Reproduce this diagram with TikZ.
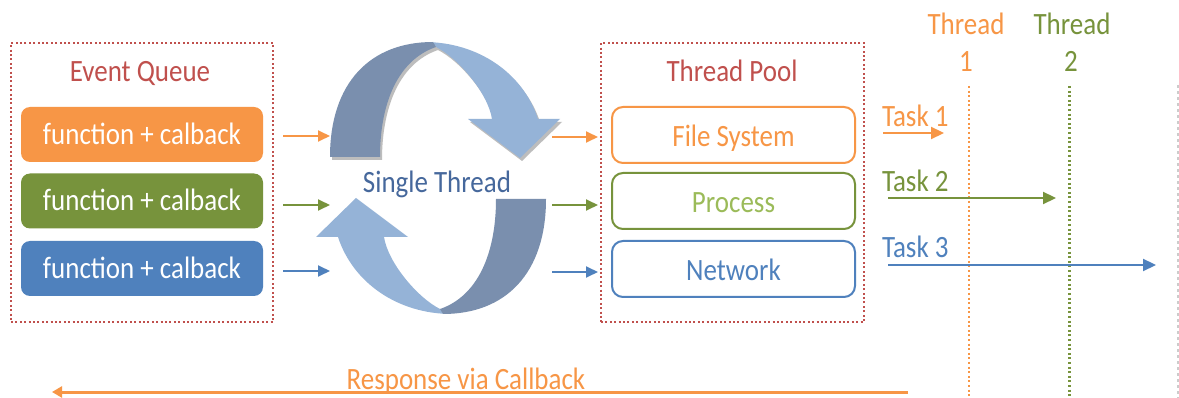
\documentclass[tikz,border=0pt]{standalone}
\usepackage{fontspec}
\setmainfont[FakeStretch=0.87]{Carlito}
\usetikzlibrary{arrows.meta}
\definecolor{qorange}{HTML}{F79646}
\definecolor{qgreen}{HTML}{77933C}
\definecolor{qlgreen}{HTML}{9BBB59}
\definecolor{qblue}{HTML}{4F81BD}
\definecolor{qred}{HTML}{C0504D}
\definecolor{ribdark}{HTML}{7A8FAE}
\definecolor{riblight}{HTML}{95B3D7}
\definecolor{stblue}{HTML}{46689C}
\definecolor{ribshadow}{HTML}{BDBDBD}

% outline of one curved ribbon arrow, centred on the loop
\newcommand\ribLightPath{(-14,-136) .. controls (40,-136) and (85,-105) .. (100,-59) -- (122,-59) -- (82,-20) -- (30,-59) -- (54,-59) .. controls (50,-85) and (20,-120) .. (-2,-131) -- cycle}
\newcommand\ribDarkPath{(-108,-21) .. controls (-108,-95) and (-68,-136) .. (-5,-136) -- (-2,-131) .. controls (-40,-118) and (-58,-75) .. (-58,-21) -- cycle}

\begin{document}
\begin{tikzpicture}[x=1pt,y=-1pt,
  every node/.style={inner sep=0pt, outer sep=0pt, font=\fontsize{31}{36}\selectfont, text height=20pt, text depth=0pt},
  qframe/.style={draw=qred, line width=2.4pt, dash pattern=on 2pt off 2.4pt},
  fbox/.style={rounded corners=9pt, text=white, minimum width=242pt, minimum height=55pt},
  obox/.style={draw, line width=2pt, rounded corners=11pt, fill=white, minimum width=243pt, minimum height=56pt, text height=24pt},
  feed/.style={line width=1.8pt, -{Triangle[length=12pt,width=11pt]}},
  task/.style={line width=2.2pt, -{Triangle[length=13pt,width=12pt]}},
  tline/.style={line width=2.4pt, dash pattern=on 2pt off 2.6pt},
]
\useasboundingbox (0,0) rectangle (1179,398);
\fill[white] (0,0) rectangle (1179,398);

% event queue
\node[qframe, minimum width=262pt, minimum height=279pt] (eq) at (142,182.5) {};
\node[text=qred] (eqt) at (140,72) {Event Queue};
\node[fbox, fill=qorange] (f1) at (142,134.5) {function + calback};
\node[fbox, fill=qgreen] (f2) at (142,201) {function + calback};
\node[fbox, fill=qblue] (f3) at (142,268.5) {function + calback};

% single thread loop
\begin{scope}[shift={(438,178)}]
  \fill[ribshadow, shift={(2,3)}] \ribLightPath;
  \fill[riblight] \ribLightPath;
  \fill[ribshadow, shift={(2,3)}] \ribDarkPath;
  \fill[ribdark] \ribDarkPath;
  \begin{scope}[rotate=180]
    \fill[riblight] \ribLightPath;
    \fill[ribdark] \ribDarkPath;
  \end{scope}
\end{scope}
\node[text=stblue] (st) at (437,183) {Single Thread};

% thread pool
\node[qframe, minimum width=263pt, minimum height=279pt] (tp) at (732.5,182.5) {};
\node[text=qred] (tpt) at (732,72) {Thread Pool};
\node[obox, draw=qorange, text=qorange] (p1) at (733.5,135) {File System};
\node[obox, draw=qgreen, text=qlgreen] (p2) at (733.5,201) {Process};
\node[obox, draw=qblue, text=qblue] (p3) at (733.5,269) {Network};

% queue -> loop -> pool
\draw[feed, qorange] ([xshift=20pt,yshift=-1.5pt]f1.east) -- ([xshift=67pt,yshift=-1.5pt]f1.east);
\draw[feed, qgreen] ([xshift=20pt,yshift=-4pt]f2.east) -- ([xshift=67pt,yshift=-4pt]f2.east);
\draw[feed, qblue] ([xshift=20pt,yshift=-2.5pt]f3.east) -- ([xshift=67pt,yshift=-2.5pt]f3.east);
\draw[feed, qorange] ([xshift=-60pt,yshift=-2pt]p1.west) -- ([xshift=-14pt,yshift=-2pt]p1.west);
\draw[feed, qgreen] ([xshift=-60pt,yshift=-4pt]p2.west) -- ([xshift=-14pt,yshift=-4pt]p2.west);
\draw[feed, qblue] ([xshift=-60pt,yshift=-3pt]p3.west) -- ([xshift=-14pt,yshift=-3pt]p3.west);

% worker threads
\node[text=qorange] (th1) at (966,25) {Thread};
\node[text=qorange] (n1) at (966,62) {1};
\node[text=qgreen] (th2) at (1072,25) {Thread};
\node[text=qgreen] (n2) at (1071,62) {2};
\coordinate (t1a) at (969,86);
\coordinate (t1b) at (969,398);
\coordinate (t2a) at (1069.5,86);
\coordinate (t2b) at (1069.5,398);
\coordinate (t3a) at (1178,85);
\coordinate (t3b) at (1178,398);
\draw[tline, qorange] (t1a) -- (t1b);
\draw[tline, qgreen] (t2a) -- (t2b);
\draw[gray!40, line width=1.2pt, dash pattern=on 3pt off 3pt] (t3a) -- (t3b);

% tasks
\node[text=qorange, anchor=west] (k1) at (882,117) {Task 1};
\node[text=qgreen, anchor=west] (k2) at (882,182) {Task 2};
\node[text=qblue, anchor=west] (k3) at (882,248) {Task 3};
\coordinate (k1s) at (883,133);
\coordinate (k1e) at (944,133);
\coordinate (k2s) at (888,198);
\coordinate (k2e) at (1056,198);
\coordinate (k3s) at (888,265);
\coordinate (k3e) at (1156,265);
\draw[task, qorange] (k1s) -- (k1e);
\draw[task, qgreen] (k2s) -- (k2e);
\draw[task, qblue] (k3s) -- (k3e);

% response
\node[text=qorange] (resp) at (466,379.5) {Response via Callback};
\coordinate (rs) at (908,392);
\coordinate (re) at (52,392);
\draw[qorange, line width=3pt, -{Triangle[length=10pt,width=11pt]}] (rs) -- (re);
\end{tikzpicture}
\end{document}
